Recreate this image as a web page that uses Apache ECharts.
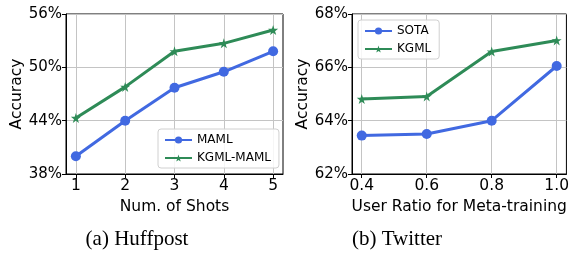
<!DOCTYPE html>
<html>
<head>
<meta charset="utf-8">
<script src="https://cdn.jsdelivr.net/npm/echarts@6/dist/echarts.min.js"></script>
<style>
  html, body { margin: 0; padding: 0; background: #fff; }
  #chart { width: 572px; height: 253px; }
</style>
</head>
<body>
<div id="chart"></div>
<script>
// (a) Huffpost
const shots = [1, 2, 3, 4, 5];
const mamlAcc = [40.0, 44.0, 47.7, 49.5, 51.8];
const kgmlMamlAcc = [44.3, 47.8, 51.8, 52.7, 54.2];
const huffYTicks = [38, 44, 50, 56];

// (b) Twitter
const userRatio = [0.4, 0.6, 0.8, 1.0];
const sotaAcc = [63.44, 63.5, 64.0, 66.05];
const kgmlAcc = [64.81, 64.91, 66.59, 67.01];
const twitYTicks = [62, 64, 66, 68];

const captions = ['(a) Huffpost', '(b) Twitter'];

const BLUE = '#4169e1';
const GREEN = '#2e8b57';
const FONT = 'DejaVu Sans';
const STAR = 'path://M50,0 L61.8,36.2 L100,36.2 L69.1,58.8 L80.9,95.1 L50,72.7 L19.1,95.1 L30.9,58.8 L0,36.2 L38.2,36.2 Z';

const chart = echarts.init(document.getElementById('chart'), null, { renderer: 'canvas' });

function pairs(xs, ys) {
    return xs.map((x, i) => [x, ys[i]]);
}

function xAxisOf(idx, min, max, ticks, name, fmt) {
    return {
        type: 'value', gridIndex: idx, min: min, max: max,
        name: name, nameLocation: 'middle', nameGap: 20,
        nameTextStyle: { fontFamily: FONT, fontSize: 15.5, color: '#000' },
        axisLine: { show: true, onZero: false, lineStyle: { color: '#000', width: 1 } },
        axisTick: { show: true, length: 4, customValues: ticks, lineStyle: { color: '#000' } },
        axisLabel: { customValues: ticks, formatter: fmt, fontFamily: FONT, fontSize: 15.5, color: '#000', margin: 4 },
        splitLine: { show: true, customValues: ticks, lineStyle: { color: '#c4c4c4', width: 1 } }
    };
}

function yAxisOf(idx, ticks) {
    return {
        type: 'value', gridIndex: idx, min: ticks[0], max: ticks[ticks.length - 1],
        interval: ticks[1] - ticks[0],
        name: 'Accuracy', nameLocation: 'middle', nameGap: 41,
        nameTextStyle: { fontFamily: FONT, fontSize: 15.5, color: '#000' },
        axisLine: { show: true, lineStyle: { color: '#000', width: 1 } },
        axisTick: { show: true, length: 4, lineStyle: { color: '#000' } },
        axisLabel: { formatter: '{value}%', fontFamily: FONT, fontSize: 15, color: '#000', margin: 4 },
        splitLine: { show: true, lineStyle: { color: '#c4c4c4', width: 1 } }
    };
}

function lineSeries(name, idx, data, color, symbol, size) {
    return {
        name: name, type: 'line', xAxisIndex: idx, yAxisIndex: idx,
        data: data, symbol: symbol, symbolSize: size, showSymbol: true,
        lineStyle: { color: color, width: 3 },
        itemStyle: { color: color },
        animation: false, z: 3
    };
}

const legendBase = {
    orient: 'vertical', itemWidth: 27, itemHeight: 9, itemGap: 6,
    padding: [5, 8, 4, 6],
    backgroundColor: 'rgba(255,255,255,0.85)',
    borderColor: '#d0d0d0', borderWidth: 1, borderRadius: 3,
    textStyle: { fontFamily: FONT, fontSize: 12, color: '#000' }
};

const option = {
    backgroundColor: '#fff',
    animation: false,
    grid: [
        { left: 66, top: 14, width: 217, height: 160, show: true, borderColor: '#000', borderWidth: 1 },
        { left: 352, top: 14, width: 217, height: 160, show: true, borderColor: '#000', borderWidth: 1 }
    ],
    xAxis: [
        xAxisOf(0, 0.8, 5.2, shots, 'Num. of Shots', v => String(v)),
        xAxisOf(1, 0.37, 1.03, userRatio, 'User Ratio for Meta-training', v => v.toFixed(1))
    ],
    yAxis: [yAxisOf(0, huffYTicks), yAxisOf(1, twitYTicks)],
    legend: [
        Object.assign({}, legendBase, { data: ['MAML', 'KGML-MAML'], left: 158, top: 129 }),
        Object.assign({}, legendBase, { data: ['SOTA', 'KGML'], left: 358, top: 20 })
    ],
    title: [
        { text: captions[0], left: 132, top: 224, textAlign: 'center',
          textStyle: { fontFamily: 'Liberation Serif', fontSize: 21, fontWeight: 'normal', color: '#000' } },
        { text: captions[1], left: 392, top: 224, textAlign: 'center',
          textStyle: { fontFamily: 'Liberation Serif', fontSize: 21, fontWeight: 'normal', color: '#000' } }
    ],
    series: [
        lineSeries('MAML', 0, pairs(shots, mamlAcc), BLUE, 'circle', 10),
        lineSeries('KGML-MAML', 0, pairs(shots, kgmlMamlAcc), GREEN, STAR, 10),
        lineSeries('SOTA', 1, pairs(userRatio, sotaAcc), BLUE, 'circle', 10),
        lineSeries('KGML', 1, pairs(userRatio, kgmlAcc), GREEN, STAR, 10)
    ]
};

chart.setOption(option);
</script>
</body>
</html>
